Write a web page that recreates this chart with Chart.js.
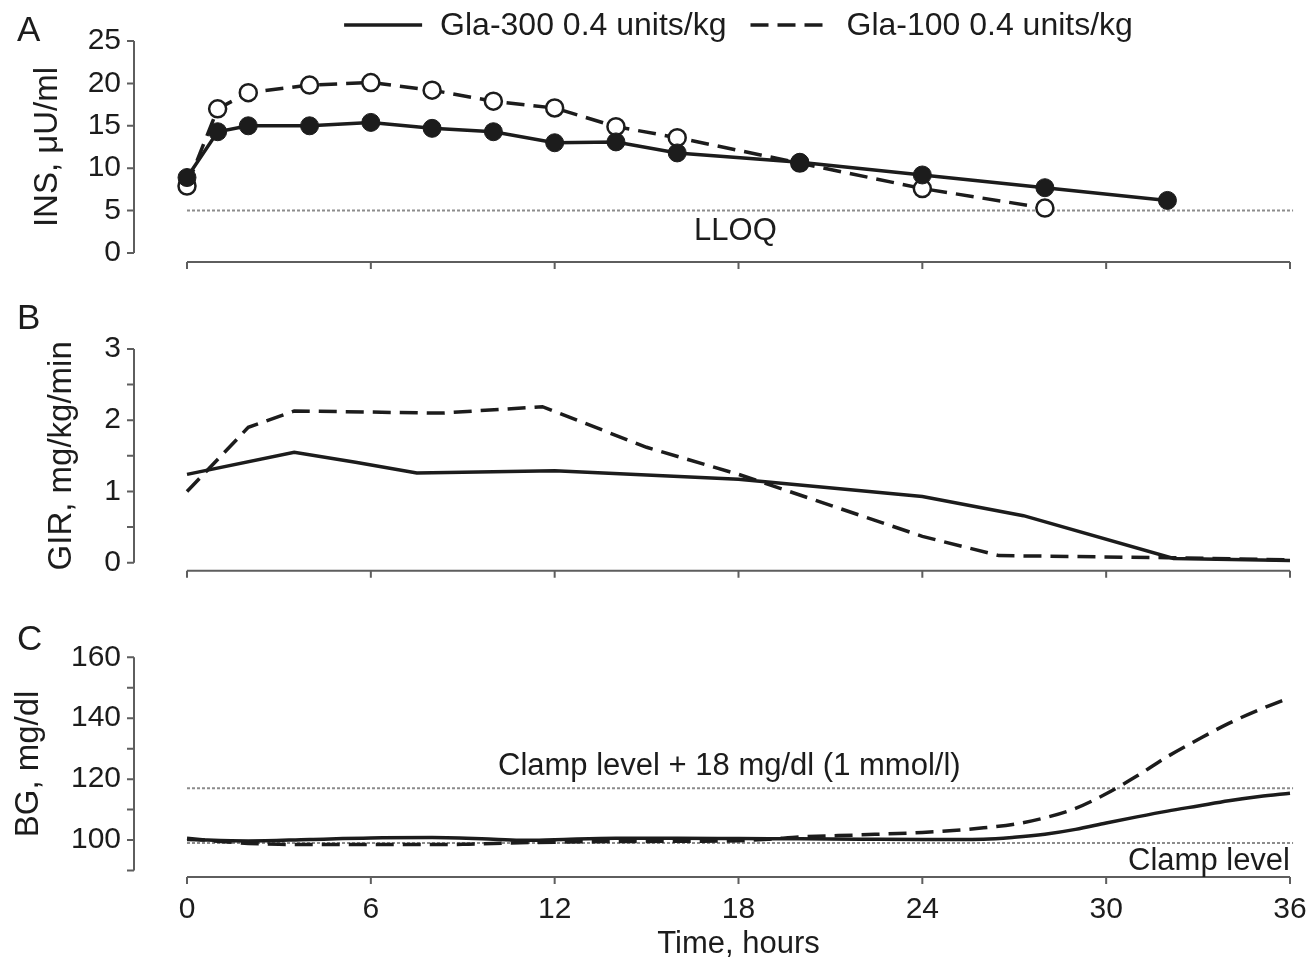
<!DOCTYPE html>
<html>
<head>
<meta charset="utf-8">
<script src="https://cdn.jsdelivr.net/npm/chart.js@4.4.1/dist/chart.umd.min.js"></script>
<style>
  body { margin: 0; background: #ffffff; }
  #wrap { position: relative; width: 1311px; height: 961px; }
  canvas { position: absolute; left: 0; }
</style>
</head>
<body>
<div id="wrap">
  <canvas id="insChart" width="1311" height="300" style="top:0px"></canvas>
  <canvas id="girChart" width="1311" height="300" style="top:300px"></canvas>
  <canvas id="bgChart" width="1311" height="361" style="top:600px"></canvas>
</div>
<script>
'use strict';

// SERIES + AXES
var seriesNames = ['Gla-300 0.4 units/kg', 'Gla-100 0.4 units/kg'];
var hourTicks = [0, 6, 12, 18, 24, 30, 36];

// PANEL A - INS (uU/ml) at sampling hours
var insHours300 = [0, 1, 2, 4, 6, 8, 10, 12, 14, 16, 20, 24, 28, 32];
var ins300 = [8.9, 14.3, 15.0, 15.0, 15.4, 14.7, 14.3, 13.0, 13.1, 11.8, 10.7, 9.2, 7.7, 6.2];
var insHours100 = [0, 1, 2, 4, 6, 8, 10, 12, 14, 16, 20, 24, 28];
var ins100 = [7.9, 17.0, 18.9, 19.8, 20.1, 19.2, 17.9, 17.1, 14.9, 13.6, 10.6, 7.6, 5.3];
var lloq = 5;

// PANEL B - GIR (mg/kg/min)
var girHours300 = [0, 3.5, 5.5, 7.5, 12, 18, 24, 27.3, 32.2, 36];
var gir300 = [1.24, 1.55, 1.41, 1.26, 1.29, 1.17, 0.93, 0.66, 0.06, 0.03];
var girHours100 = [0, 2, 3.5, 8.3, 11.6, 15, 18, 24, 26.5, 32, 36];
var gir100 = [1.0, 1.9, 2.13, 2.10, 2.19, 1.62, 1.24, 0.37, 0.10, 0.07, 0.04];

// PANEL C - BG (mg/dl)
var bgHours300 = [0, 2, 4, 6, 8, 10, 11, 12, 14, 16, 18, 20, 22, 24, 26, 27, 28, 29, 30, 31, 32, 33, 34, 35, 36];
var bg300 = [100.2, 99.7, 100.2, 100.7, 100.8, 100.3, 99.9, 100.1, 100.6, 100.6, 100.5, 100.4, 100.3, 100.2, 100.3, 100.9, 101.9, 103.5, 105.6, 107.6, 109.5, 111.2, 112.9, 114.3, 115.4];
var bgHours100 = [0, 1, 2, 3, 5, 7, 9, 10, 12, 14, 16, 18, 19, 20, 22, 24, 25, 26, 27, 28, 29, 30, 31, 32, 33, 34, 35, 36];
var bg100 = [100.6, 99.6, 98.9, 98.6, 98.5, 98.5, 98.6, 98.9, 99.3, 99.5, 99.6, 99.8, 100.3, 101.0, 101.7, 102.5, 103.1, 104.0, 105.2, 107.3, 110.4, 115.2, 121.0, 127.4, 133.0, 138.3, 142.8, 146.8];
var clampLevel = 99;
var clampUpper = 117;

var FONT = '"Liberation Sans", Arial, sans-serif';
var INK = '#1c1c1c';
var AXIS = '#5e5e5e';

Chart.defaults.font.family = FONT;
Chart.defaults.font.size = 30;
Chart.defaults.color = INK;

function toPoints(hours, values) {
  var pts = [];
  for (var i = 0; i < hours.length; i++) {
    pts.push({x: hours[i], y: values[i]});
  }
  return pts;
}

function refLine(level) {
  return {
    data: [{x: 0, y: level}, {x: 36.1, y: level}],
    borderColor: '#8c8c8c',
    borderWidth: 2,
    borderDash: [3, 2],
    pointRadius: 0,
    clip: false
  };
}

// R-STYLE DETACHED AXES
var offsetAxes = {
  id: 'offsetAxes',
  afterDraw: function(chart, args, opts) {
    var ctx = chart.ctx;
    var xs = chart.scales.x;
    var ys = chart.scales.y;
    var yLineX = chart.chartArea.left - 53;
    var xLineY = chart.chartArea.bottom + opts.xGap;
    ctx.save();
    ctx.strokeStyle = AXIS;
    ctx.lineWidth = 2;
    ctx.beginPath();
    ctx.moveTo(yLineX, ys.getPixelForValue(ys.min));
    ctx.lineTo(yLineX, ys.getPixelForValue(ys.max));
    ys.ticks.forEach(function(t) {
      var py = ys.getPixelForValue(t.value);
      ctx.moveTo(yLineX - 7, py);
      ctx.lineTo(yLineX, py);
    });
    ctx.moveTo(xs.getPixelForValue(xs.min), xLineY);
    ctx.lineTo(xs.getPixelForValue(xs.max), xLineY);
    xs.ticks.forEach(function(t) {
      var px = xs.getPixelForValue(t.value);
      ctx.moveTo(px, xLineY);
      ctx.lineTo(px, xLineY + 7);
    });
    ctx.stroke();
    ctx.restore();
  }
};

// TEXT NOTES (panel letters, reference labels)
var notes = {
  id: 'notes',
  afterDraw: function(chart, args, opts) {
    var ctx = chart.ctx;
    (opts.items || []).forEach(function(n) {
      var px = n.hour !== undefined ? chart.scales.x.getPixelForValue(n.hour) : n.px;
      var py = n.level !== undefined ? chart.scales.y.getPixelForValue(n.level) + n.dy : n.py;
      ctx.save();
      ctx.font = (n.size || 31) + 'px ' + FONT;
      ctx.fillStyle = INK;
      ctx.textAlign = n.align || 'center';
      ctx.textBaseline = 'middle';
      ctx.fillText(n.text, px, py);
      ctx.restore();
    });
  }
};

// LEGEND ABOVE PANEL A
var lineLegend = {
  id: 'lineLegend',
  afterDraw: function(chart, args, opts) {
    if (!opts.show) return;
    var ctx = chart.ctx;
    var sets = chart.data.datasets.slice(0, 2);
    var sample = 78, gap = 18, between = 24;
    ctx.save();
    ctx.font = '32px ' + FONT;
    var widths = sets.map(function(d) { return sample + gap + ctx.measureText(d.label).width; });
    var total = widths[0] + widths[1] + between;
    var x = (chart.chartArea.left + chart.chartArea.right) / 2 - total / 2;
    var y = opts.y;
    sets.forEach(function(d, i) {
      ctx.strokeStyle = INK;
      ctx.lineWidth = 3.5;
      ctx.setLineDash(d.borderDash || []);
      ctx.beginPath();
      ctx.moveTo(x, y);
      ctx.lineTo(x + sample, y);
      ctx.stroke();
      ctx.setLineDash([]);
      ctx.fillStyle = INK;
      ctx.textAlign = 'left';
      ctx.textBaseline = 'middle';
      ctx.fillText(d.label, x + sample + gap, y + 1);
      x += widths[i] + between;
    });
    ctx.restore();
  }
};

function xScale(bandHeight, showLabels) {
  return {
    type: 'linear',
    min: 0,
    max: 36,
    afterBuildTicks: function(s) { s.ticks = hourTicks.map(function(v) { return {value: v}; }); },
    afterFit: function(s) {
      s.height = bandHeight;
      s.paddingLeft = 0;
      s.paddingRight = 0;
    },
    grid: {display: false, drawTicks: false},
    border: {display: false},
    ticks: {display: showLabels, autoSkip: false, maxRotation: 0, padding: 21},
    title: showLabels ? {display: true, text: 'Time, hours', font: {size: 31}, padding: {top: 0, bottom: -2}} : {display: false}
  };
}

function yScale(min, max, step, labelEvery, title, titleOffset) {
  return {
    type: 'linear',
    min: min,
    max: max,
    afterFit: function(s) {
      s.width = 187;
      s.paddingTop = 0;
      s.paddingBottom = 0;
    },
    grid: {display: false, drawTicks: false},
    border: {display: false},
    ticks: {
      stepSize: step,
      padding: 66,
      autoSkip: false,
      callback: function(v) { return Math.abs(v / labelEvery - Math.round(v / labelEvery)) < 1e-6 ? v : ''; }
    },
    title: {display: true, text: title, font: {size: 33}, padding: {top: titleOffset, bottom: 0}}
  };
}

function baseOptions(padTop, xBand, xGap, showX, yOpts, items, legendOn) {
  return {
    responsive: false,
    animation: false,
    events: [],
    layout: {padding: {top: padTop, right: 21, left: 0, bottom: 0}},
    scales: {x: xScale(xBand, showX), y: yOpts},
    plugins: {
      legend: {display: false},
      tooltip: {enabled: false},
      offsetAxes: {xGap: xGap},
      notes: {items: items},
      lineLegend: {show: legendOn, y: 25}
    }
  };
}

var plugins = [offsetAxes, notes, lineLegend];

// PANEL A
new Chart(document.getElementById('insChart'), {
  type: 'line',
  data: {
    datasets: [
      {
        label: seriesNames[0],
        data: toPoints(insHours300, ins300),
        borderColor: INK, borderWidth: 3.5,
        pointRadius: 9, pointBackgroundColor: INK, pointBorderColor: INK, pointBorderWidth: 1,
        clip: false
      },
      {
        label: seriesNames[1],
        data: toPoints(insHours100, ins100),
        borderColor: INK, borderWidth: 3.5, borderDash: [18, 9],
        pointRadius: 8.5, pointBackgroundColor: '#ffffff', pointBorderColor: INK, pointBorderWidth: 2.5,
        clip: false
      },
      refLine(lloq)
    ]
  },
  options: baseOptions(41, 47, 9, false, yScale(0, 25, 5, 5, 'INS, \u03bcU/ml', 28),
    [{text: 'A', px: 17, py: 31, align: 'left', size: 35},
     {text: 'LLOQ', hour: 17.9, level: lloq, dy: 21}], true),
  plugins: plugins
});

// PANEL B
new Chart(document.getElementById('girChart'), {
  type: 'line',
  data: {
    datasets: [
      {label: seriesNames[0], data: toPoints(girHours300, gir300), borderColor: INK, borderWidth: 3.5, pointRadius: 0, clip: false},
      {label: seriesNames[1], data: toPoints(girHours100, gir100), borderColor: INK, borderWidth: 3.5, borderDash: [18, 9], pointRadius: 0, clip: false}
    ]
  },
  options: baseOptions(49, 37.3, 8, false, yScale(0, 3, 0.5, 1, 'GIR, mg/kg/min', 42),
    [{text: 'B', px: 17, py: 19, align: 'left', size: 35}], false),
  plugins: plugins
});

// PANEL C
new Chart(document.getElementById('bgChart'), {
  type: 'line',
  data: {
    datasets: [
      {label: seriesNames[0], data: toPoints(bgHours300, bg300), borderColor: INK, borderWidth: 3.5, pointRadius: 0, cubicInterpolationMode: 'monotone', clip: false},
      {label: seriesNames[1], data: toPoints(bgHours100, bg100), borderColor: INK, borderWidth: 3.5, borderDash: [18, 9], pointRadius: 0, cubicInterpolationMode: 'monotone', clip: false},
      refLine(clampUpper),
      refLine(clampLevel)
    ]
  },
  options: baseOptions(57.3, 90.5, 6.5, true, yScale(90, 160, 10, 20, 'BG, mg/dl', 9),
    [{text: 'C', px: 17, py: 40, align: 'left', size: 35},
     {text: 'Clamp level + 18 mg/dl (1 mmol/l)', hour: 17.7, level: clampUpper, dy: -22},
     {text: 'Clamp level', hour: 36, level: clampLevel, dy: 18, align: 'right'}], false),
  plugins: plugins
});
</script>
</body>
</html>
